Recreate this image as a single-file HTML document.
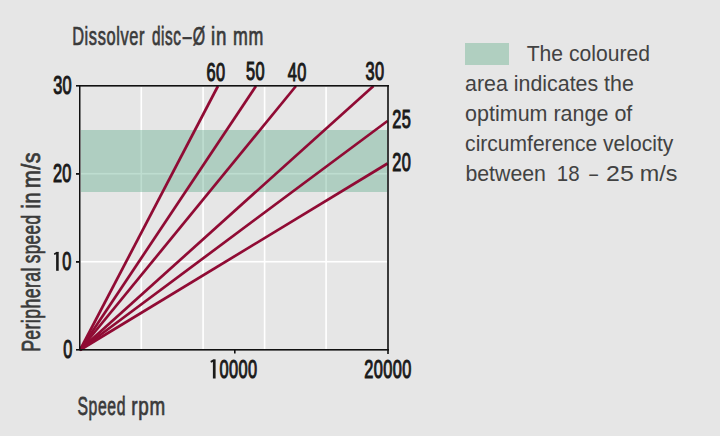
<!DOCTYPE html>
<html><head><meta charset="utf-8">
<style>
html,body{margin:0;padding:0;background:#e6e6e6;width:720px;height:436px;overflow:hidden}
svg{display:block}
text{font-family:"Liberation Sans",sans-serif}
.num{fill:#1a1a1a;stroke:#1a1a1a;stroke-width:1.15px}
.ttl{fill:#3a3a3a;stroke:#3a3a3a;stroke-width:0.75px}
.leg{fill:#424242}
</style></head><body>
<svg width="720" height="436" viewBox="0 0 720 436">
<rect x="0" y="0" width="720" height="436" fill="#e6e6e6"/>
<g fill="#ffffff">
<rect x="140.5" y="87" width="1.6" height="262"/>
<rect x="202.3" y="87" width="1.6" height="262"/>
<rect x="263.8" y="87" width="1.6" height="262"/>
<rect x="325.3" y="87" width="1.6" height="262"/>
<rect x="81" y="172.9" width="306" height="1.6"/>
<rect x="81" y="260.9" width="306" height="1.6"/>
</g>
<rect x="81" y="130" width="306" height="62" fill="rgb(92,170,137)" fill-opacity="0.4"/>
<g stroke="#900b34" stroke-width="2.7" fill="none">
<line x1="80" y1="350" x2="218" y2="86"/>
<line x1="80" y1="350" x2="256" y2="86"/>
<line x1="80" y1="350" x2="296" y2="86"/>
<line x1="80" y1="350" x2="373.5" y2="86"/>
<line x1="80" y1="350" x2="387.5" y2="121"/>
<line x1="80" y1="350" x2="387.5" y2="163.5"/>
</g>
<g fill="#111111">
<rect x="76" y="85" width="313" height="1.6"/>
<rect x="79" y="85" width="1.5" height="265.5"/>
<rect x="76" y="349" width="313" height="1.6"/>
<rect x="387.2" y="85" width="1.6" height="269"/>
<rect x="76" y="173" width="3" height="1.8"/>
<rect x="76" y="261" width="3" height="1.8"/>
<rect x="234" y="350" width="1.6" height="3.5"/>
</g>
<g fill="#1a1a1a">
<rect x="56.1" y="251.9" width="2.6" height="18.9"/>
<polygon points="56.3,251.9 58.7,251.9 56.1,254.3 54.4,254.9 53.9,253.4"/>
<rect x="212.9" y="359.6" width="2.7" height="18.9"/>
<polygon points="213.1,359.6 215.6,359.6 212.9,362.0 211.0,362.7 210.4,361.1"/>
</g>
<g id="t1" transform="translate(72.13,44.50) scale(0.6298,1.0000)"><text class="ttl" font-size="26" letter-spacing="1.0">Dissolver</text></g>
<g id="t2" transform="translate(151.92,44.50) scale(0.5908,1.0000)"><text class="ttl" font-size="26" letter-spacing="1.0">disc</text></g>
<g id="t3" transform="translate(182.66,44.50) scale(0.6042,1.0000)"><text class="ttl" font-size="26" letter-spacing="0">–</text></g>
<g id="t4" transform="translate(192.86,44.50) scale(0.6085,1.0000)"><text class="ttl" font-size="26" letter-spacing="0">Ø</text></g>
<g id="t5" transform="translate(211.05,44.50) scale(0.7197,1.0000)"><text class="ttl" font-size="26" letter-spacing="1.0">in</text></g>
<g id="t6" transform="translate(233.08,44.50) scale(0.6840,1.0000)"><text class="ttl" font-size="26" letter-spacing="1.0">mm</text></g>
<g id="l1" transform="translate(526.65,60.80) scale(0.9824,1.0500)"><text class="leg" font-size="21.5" letter-spacing="0">The coloured</text></g>
<g id="l2" transform="translate(465.12,90.50) scale(0.9945,1.0500)"><text class="leg" font-size="21.5" letter-spacing="0">area indicates the</text></g>
<g id="l3" transform="translate(465.11,120.50) scale(0.9997,1.0500)"><text class="leg" font-size="21.5" letter-spacing="0">optimum range of</text></g>
<g id="l4" transform="translate(465.12,150.80) scale(0.9794,1.0500)"><text class="leg" font-size="21.5" letter-spacing="0">circumference velocity</text></g>
<g id="l5a" transform="translate(465.38,180.70) scale(0.9917,1.0500)"><text class="leg" font-size="21.5" letter-spacing="0">between</text></g>
<g id="l5b" transform="translate(556.74,180.70) scale(0.9523,1.0500)"><text class="leg" font-size="21.5" letter-spacing="0">18</text></g>
<g id="l5c" transform="translate(589.13,180.70) scale(0.7294,1.0500)"><text class="leg" font-size="21.5" letter-spacing="0">–</text></g>
<g id="l5d" transform="translate(606.08,180.70) scale(1.1576,1.0500)"><text class="leg" font-size="21.5" letter-spacing="0">25</text></g>
<g id="l5e" transform="translate(639.87,180.70) scale(1.0881,1.0500)"><text class="leg" font-size="21.5" letter-spacing="0">m/s</text></g>
<g id="s1" transform="translate(77.48,415.30) scale(0.6054,1.0000)"><text class="ttl" font-size="26" letter-spacing="1.0">Speed</text></g>
<g id="s2" transform="translate(131.23,415.30) scale(0.7249,1.0000)"><text class="ttl" font-size="26" letter-spacing="1.0">rpm</text></g>
<g id="r1" transform="translate(39.50,351.87) rotate(-90) scale(0.6805,1.0000)"><text class="ttl" font-size="26" letter-spacing="0.6">Peripheral</text></g>
<g id="r2" transform="translate(39.50,263.29) rotate(-90) scale(0.6598,1.0000)"><text class="ttl" font-size="26" letter-spacing="0.6">speed</text></g>
<g id="r3" transform="translate(39.50,208.45) rotate(-90) scale(0.7608,1.0000)"><text class="ttl" font-size="26" letter-spacing="0.6">in</text></g>
<g id="r4" transform="translate(39.50,188.25) rotate(-90) scale(0.8322,1.0000)"><text class="ttl" font-size="26" letter-spacing="0.6">m/s</text></g>
<g id="n60" transform="translate(206.56,80.64) scale(0.6288,0.9631)"><text class="num" font-size="26" letter-spacing="0.6">60</text></g>
<g id="n50" transform="translate(245.92,80.27) scale(0.6288,0.9631)"><text class="num" font-size="26" letter-spacing="0.6">50</text></g>
<g id="n40" transform="translate(287.86,80.60) scale(0.6288,0.9631)"><text class="num" font-size="26" letter-spacing="0.6">40</text></g>
<g id="n30t" transform="translate(365.44,80.49) scale(0.6288,0.9631)"><text class="num" font-size="26" letter-spacing="0.6">30</text></g>
<g id="n25" transform="translate(392.23,128.40) scale(0.6288,0.9631)"><text class="num" font-size="26" letter-spacing="0.6">25</text></g>
<g id="n20r" transform="translate(392.20,170.50) scale(0.6288,0.9631)"><text class="num" font-size="26" letter-spacing="0.6">20</text></g>
<g id="n30l" transform="translate(53.16,94.18) scale(0.6288,0.9631)"><text class="num" font-size="26" letter-spacing="0.6">30</text></g>
<g id="n20l" transform="translate(52.91,182.23) scale(0.6288,0.9631)"><text class="num" font-size="26" letter-spacing="0.6">20</text></g>
<g id="n10" transform="translate(62.14,270.19) scale(0.6288,0.9631)"><text class="num" font-size="26" letter-spacing="0.6">0</text></g>
<g id="n0" transform="translate(63.36,357.95) scale(0.6288,0.9631)"><text class="num" font-size="26" letter-spacing="0.6">0</text></g>
<g id="n10000" transform="translate(219.51,378.27) scale(0.6288,0.9631)"><text class="num" font-size="26" letter-spacing="0.6">0000</text></g>
<g id="n20000" transform="translate(364.30,377.70) scale(0.6288,0.9631)"><text class="num" font-size="26" letter-spacing="0.6">20000</text></g>

<rect x="465" y="43" width="44" height="22" fill="#b0cfc0"/>
</svg>
</body></html>
